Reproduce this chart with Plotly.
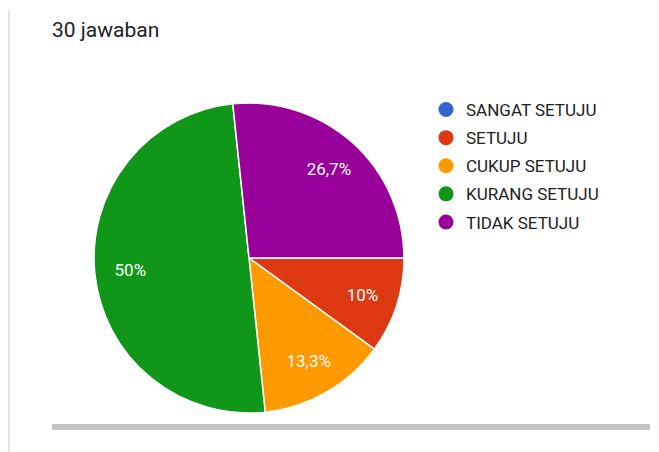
import plotly.graph_objects as go

labels = ["SANGAT SETUJU", "SETUJU", "CUKUP SETUJU", "KURANG SETUJU", "TIDAK SETUJU"]
counts = [0, 3, 4, 15, 8]
colors = ["#3366cc", "#dc3912", "#ff9900", "#109618", "#990099"]
title_text = "30 jawaban"

# the page body has an 8px margin; work in window pixels and subtract it
OFF = 8
W, H = 659 - OFF, 452 - OFF
def px(x):
    return (x - OFF) / W
def py(y):
    return 1 - (y - OFF) / H

cx, cy, r = 249, 258, 155
dom = dict(x=[px(cx - r), px(cx + r)], y=[py(cy + r), py(cy - r)])

fig = go.Figure()
fig.add_trace(go.Pie(
    labels=labels, values=counts, sort=False, direction="clockwise", rotation=90,
    marker=dict(colors=colors, line=dict(color="white", width=1.5)),
    textinfo="none", showlegend=False, hoverinfo="label+percent",
    domain=dom,
))
# transparent ring only used to place the percentage labels like Google Forms
fig.add_trace(go.Pie(
    labels=labels, values=counts, sort=False, direction="clockwise", rotation=90,
    hole=0.54,
    marker=dict(colors=["rgba(0,0,0,0)"] * len(labels), line=dict(width=0)),
    texttemplate="%{percent:.3~p}", textposition="inside",
    insidetextorientation="horizontal",
    textfont=dict(family="Roboto", size=17, color="white"),
    showlegend=False, hoverinfo="skip",
    domain=dom,
))
for lab, col in zip(labels, colors):
    fig.add_trace(go.Scatter(
        x=[None], y=[None], mode="markers", name=lab, legendgroup=lab,
        marker=dict(symbol="circle", size=15, color=col),
    ))

fig.update_layout(
    width=W, height=H, margin=dict(l=0, r=0, t=0, b=0),
    paper_bgcolor="white", plot_bgcolor="white",
    separators=",.",
    font=dict(family="Roboto", color="#212121"),
    title=dict(text=title_text, x=px(52), xanchor="left", y=py(30), yanchor="middle",
               font=dict(family="Roboto", size=21, color="#212121")),
    xaxis=dict(visible=False), yaxis=dict(visible=False),
    legend=dict(x=px(426), xanchor="left", y=py(92), yanchor="top",
                font=dict(family="Roboto", size=17, color="#212121"),
                traceorder="grouped", tracegroupgap=3, itemwidth=30,
                bgcolor="rgba(0,0,0,0)"),
    shapes=[
        dict(type="line", xref="paper", yref="paper", x0=px(9), x1=px(9), y0=0, y1=py(10),
             line=dict(color="#dddddd", width=1.5)),
        dict(type="line", xref="paper", yref="paper", x0=px(52), x1=px(650),
             y0=py(427), y1=py(427), line=dict(color="#c4c4c4", width=6)),
    ],
)
fig.write_html("out.html")
